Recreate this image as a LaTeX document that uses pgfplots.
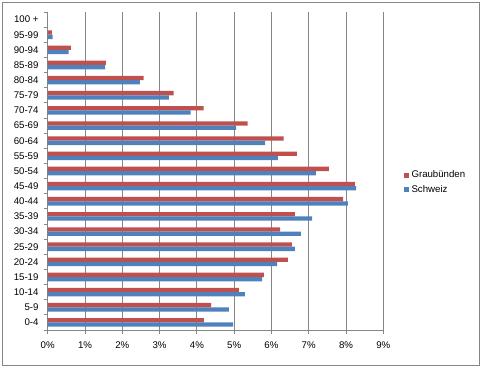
\documentclass[border=0pt]{standalone}
\usepackage{pgfplots}
\pgfplotsset{compat=1.18}
\usepackage{fontspec}
\setmainfont{Liberation Sans}
\definecolor{gbred}{HTML}{C0504D}
\definecolor{chblue}{HTML}{4F81BD}
\definecolor{gridgray}{HTML}{868686}
\begin{document}
\begin{tikzpicture}[x=1bp,y=1bp]
\useasboundingbox (0,0) rectangle (483,367);
\draw[gridgray, line width=0.8bp] (2,2) rectangle (479.5,365);
\begin{axis}[
  at={(47.7bp,37bp)}, anchor=south west,
  scale only axis, width=335.6bp, height=318bp,
  xmin=0, xmax=9, ymin=-0.5, ymax=20.5,
  axis x line*=bottom, axis y line*=left,
  axis line style={gridgray, line width=0.8bp},
  xtick={0,...,9},
  xticklabel={\pgfmathprintnumber{\tick}\%},
  xmajorgrids, major grid style={gridgray, line width=0.8bp},
  ytick={0,...,20},
  yticklabels={0-4,5-9,10-14,15-19,20-24,25-29,30-34,35-39,40-44,45-49,50-54,55-59,60-64,65-69,70-74,75-79,80-84,85-89,90-94,95-99,100 +},
  minor ytick={-0.5,0.5,...,20.5},
  tick align=outside,
  major tick length=4bp, minor tick length=4bp,
  major y tick style={draw=none}, minor y tick style={draw=gridgray, line width=0.8bp},
  x tick style={gridgray, line width=0.8bp},
  yticklabel style={xshift=-4bp, inner sep=1bp},
  xticklabel style={yshift=-4bp},
  tick label style={font=\fontsize{9.7}{11}\selectfont, /pgf/number format/assume math mode=true},
  legend style={at={(1.062,0.464)}, anchor=west, draw=none, fill=none,
    font=\fontsize{9.7}{11}\selectfont, row sep=3bp, inner sep=0pt,
    legend cell align=left, nodes={inner xsep=2.2bp, inner ysep=1.5bp}},
  legend image code/.code={\fill[#1] (0bp,-2.5bp) rectangle (5bp,2.5bp);},
]
\addplot[xbar, bar width=4.3bp, bar shift=2.15bp, draw=none, fill=gbred] coordinates {
(4.19,0) (4.38,1) (5.13,2) (5.80,3) (6.44,4) (6.55,5) (6.23,6) (6.63,7) (7.92,8) (8.24,9)
(7.54,10) (6.68,11) (6.33,12) (5.36,13) (4.18,14) (3.38,15) (2.57,16) (1.56,17) (0.62,18) (0.11,19) (0,20)};
\addlegendentry{Graubünden}
\addplot[xbar, bar width=4.3bp, bar shift=-2.15bp, draw=none, fill=chblue] coordinates {
(4.97,0) (4.86,1) (5.29,2) (5.75,3) (6.15,4) (6.63,5) (6.79,6) (7.09,7) (8.05,8) (8.27,9)
(7.19,10) (6.17,11) (5.83,12) (5.05,13) (3.83,14) (3.25,15) (2.47,16) (1.54,17) (0.56,18) (0.13,19) (0,20)};
\addlegendentry{Schweiz}
\end{axis}
\end{tikzpicture}
\end{document}
